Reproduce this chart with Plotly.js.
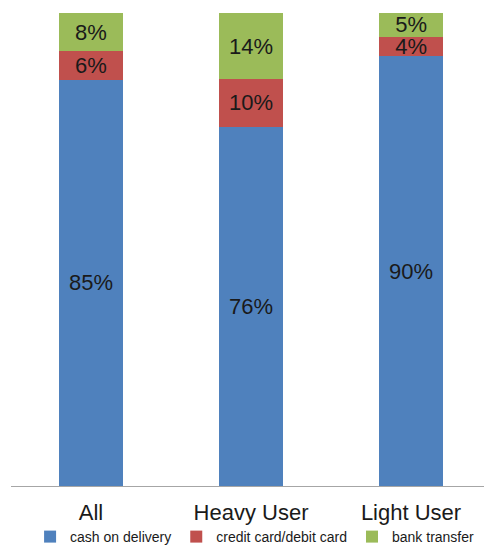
<!DOCTYPE html>
<html>
<head>
<meta charset="utf-8">
<script src="https://cdn.plot.ly/plotly-3.0.1.min.js"></script>
<style>
  html, body { margin: 0; padding: 0; background: #ffffff; }
  #chart { width: 484px; height: 553px; }
</style>
</head>
<body>
<div id="chart"></div>
<script>
const categories = ["All", "Heavy User", "Light User"];
const seriesNames = ["cash on delivery", "credit card/debit card", "bank transfer"];
const cashOnDelivery = [85, 76, 90];
const creditCard = [6, 10, 4];
const bankTransfer = [8, 14, 5];
const colors = ["#4F81BD", "#C0504D", "#9BBB59"];

const FONT = "Liberation Sans, Arial, sans-serif";
const seriesValues = [cashOnDelivery, creditCard, bankTransfer];

const traces = seriesValues.map((vals, i) => ({
  type: "bar",
  name: seriesNames[i],
  x: categories,
  y: vals,
  text: vals.map(v => v + "%"),
  textposition: "inside",
  insidetextanchor: "middle",
  textangle: 0,
  textfont: { family: FONT, size: 22, color: "#1a1a1a" },
  marker: { color: colors[i], line: { width: 0 } },
  width: 0.4,
  hoverinfo: "skip"
}));

const layout = {
  width: 484,
  height: 553,
  barmode: "stack",
  barnorm: "percent",
  paper_bgcolor: "#ffffff",
  plot_bgcolor: "#ffffff",
  margin: { l: 11, r: 0, t: 13, b: 67, pad: 0, autoexpand: false },
  font: { family: FONT, color: "#1a1a1a" },
  uniformtext: { mode: "show", minsize: 22 },
  xaxis: {
    type: "category",
    range: [-0.5, 2.456],
    showline: true,
    linecolor: "#a6a6a6",
    linewidth: 1,
    ticks: "",
    showgrid: false,
    zeroline: false,
    ticklabelstandoff: 7,
    tickfont: { family: FONT, size: 22, color: "#1a1a1a" }
  },
  yaxis: {
    range: [0, 100],
    visible: false,
    showgrid: false,
    zeroline: false
  },
  showlegend: true,
  legend: {
    orientation: "h",
    xref: "container",
    yref: "container",
    x: 0.526,
    xanchor: "center",
    y: 0,
    yanchor: "bottom",
    font: { family: FONT, size: 14, color: "#1a1a1a" },
    traceorder: "normal",
    itemwidth: 30,
    tracegroupgap: 0,
    bgcolor: "rgba(0,0,0,0)"
  }
};

Plotly.newPlot("chart", traces, layout, { displayModeBar: false, staticPlot: true });
</script>
</body>
</html>
